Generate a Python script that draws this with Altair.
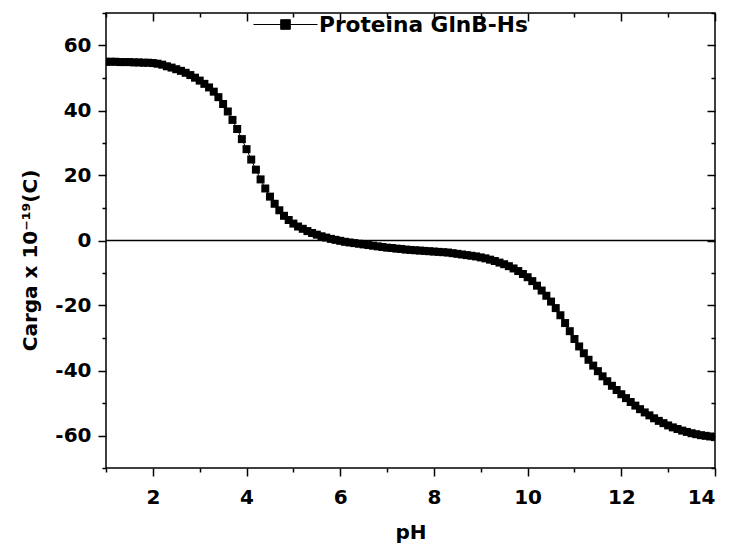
import altair as alt
import pandas as pd

# pH grid (x values)
ph = [1.0, 1.1, 1.2, 1.3, 1.4, 1.5, 1.6, 1.7, 1.8, 1.9,
      2.0, 2.1, 2.2, 2.3, 2.4, 2.5, 2.6, 2.7, 2.8, 2.9,
      3.0, 3.1, 3.2, 3.3, 3.4, 3.5, 3.6, 3.7, 3.8, 3.9,
      4.0, 4.1, 4.2, 4.3, 4.4, 4.5, 4.6, 4.7, 4.8, 4.9,
      5.0, 5.1, 5.2, 5.3, 5.4, 5.5, 5.6, 5.7, 5.8, 5.9,
      6.0, 6.1, 6.2, 6.3, 6.4, 6.5, 6.6, 6.7, 6.8, 6.9,
      7.0, 7.1, 7.2, 7.3, 7.4, 7.5, 7.6, 7.7, 7.8, 7.9,
      8.0, 8.1, 8.2, 8.3, 8.4, 8.5, 8.6, 8.7, 8.8, 8.9,
      9.0, 9.1, 9.2, 9.3, 9.4, 9.5, 9.6, 9.7, 9.8, 9.9,
      10.0, 10.1, 10.2, 10.3, 10.4, 10.5, 10.6, 10.7, 10.8, 10.9,
      11.0, 11.1, 11.2, 11.3, 11.4, 11.5, 11.6, 11.7, 11.8, 11.9,
      12.0, 12.1, 12.2, 12.3, 12.4, 12.5, 12.6, 12.7, 12.8, 12.9,
      13.0, 13.1, 13.2, 13.3, 13.4, 13.5, 13.6, 13.7, 13.8, 13.9,
      14.0]

# Charge x 10^-19 C
carga = [55.0, 55.0, 55.0, 54.9, 54.9, 54.9, 54.8, 54.8, 54.7, 54.7,
         54.6, 54.4, 54.1, 53.6, 53.2, 52.7, 52.2, 51.6, 50.9, 50.1,
         49.2, 48.2, 47.1, 45.8, 44.1, 42.0, 39.7, 37.1, 34.3, 31.2,
         28.1, 24.9, 21.8, 18.8, 16.0, 13.5, 11.3, 9.3, 7.6, 6.3,
         5.2, 4.3, 3.6, 2.9, 2.3, 1.8, 1.3, 0.9, 0.5, 0.2,
         -0.1, -0.4, -0.6, -0.8, -1.0, -1.2, -1.4, -1.6, -1.8, -2.0,
         -2.2, -2.3, -2.5, -2.6, -2.8, -2.9, -3.0, -3.1, -3.2, -3.3,
         -3.4, -3.5, -3.6, -3.7, -3.9, -4.1, -4.3, -4.5, -4.7, -4.9,
         -5.2, -5.5, -5.9, -6.3, -6.8, -7.3, -7.9, -8.6, -9.4, -10.3,
         -11.3, -12.5, -13.9, -15.4, -17.0, -18.8, -20.8, -23.0, -25.4, -27.9,
         -30.3, -32.6, -34.7, -36.7, -38.5, -40.2, -41.8, -43.3, -44.7, -46.0,
         -47.3, -48.5, -49.7, -50.8, -51.9, -52.9, -53.8, -54.7, -55.5, -56.2,
         -56.9, -57.5, -58.0, -58.5, -58.9, -59.3, -59.6, -59.9, -60.1, -60.3,
         -60.5]

serie = "Proteina GlnB-Hs"

x_major = [2, 4, 6, 8, 10, 12, 14]
x_minor = [1, 3, 5, 7, 9, 11, 13]
y_major = [-60, -40, -20, 0, 20, 40, 60]
y_minor = [-70, -50, -30, -10, 10, 30, 50, 70]

df = pd.DataFrame({"pH": ph, "carga": carga, "serie": [serie] * len(ph)})

FONT = "DejaVu Sans"
xs = alt.Scale(domain=[1, 14], nice=False, zero=False)
ys = alt.Scale(domain=[-70, 70], nice=False, zero=False)

base = alt.Chart(df)

points = base.mark_point(shape="square", filled=True, size=64, opacity=1, clip=True).encode(
    x=alt.X("pH:Q", scale=xs,
            axis=alt.Axis(orient="bottom", values=x_major, tickSize=8, labelPadding=11,
                          labelExpr="'' + datum.value",
                          title="pH", titleBaseline="alphabetic", titleY=70)),
    y=alt.Y("carga:Q", scale=ys,
            axis=alt.Axis(orient="left", values=y_major, tickSize=8, labelPadding=7,
                          labelExpr="'' + datum.value",
                          title="Carga x 10⁻¹⁹(C)", titleBaseline="alphabetic",
                          titleX=-70, titleY=247, titleAngle=270)),
    color=alt.Color("serie:N", scale=alt.Scale(range=["black"]),
                    legend=alt.Legend(orient="none", legendX=147, legendY=-21, title=None,
                                      symbolType="M-1,0H1M-0.15,-0.15H0.15V0.15H-0.15Z",
                                      symbolSize=4096, symbolFillColor="black",
                                      symbolStrokeColor="black", symbolStrokeWidth=1,
                                      labelFont=FONT, labelFontSize=21.7, labelFontWeight="bold",
                                      labelColor="black", labelOffset=1, labelLimit=0, padding=0)),
)

line = base.mark_line(color="black", strokeWidth=1, clip=True).encode(
    x=alt.X("pH:Q", scale=xs,
            axis=alt.Axis(orient="bottom", values=x_minor, tickSize=4, labels=False, title=None)),
    y=alt.Y("carga:Q", scale=ys,
            axis=alt.Axis(orient="left", values=y_minor, tickSize=4, labels=False, title=None)),
)

mirror_major = base.mark_point(opacity=0).encode(
    x=alt.X("pH:Q", scale=xs,
            axis=alt.Axis(orient="top", values=x_major, tickSize=8, offset=-8, labels=False, title=None)),
    y=alt.Y("carga:Q", scale=ys,
            axis=alt.Axis(orient="right", values=y_major, tickSize=8, offset=-8, labels=False, title=None)),
)

mirror_minor = base.mark_point(opacity=0).encode(
    x=alt.X("pH:Q", scale=xs,
            axis=alt.Axis(orient="top", values=x_minor, tickSize=4, offset=-4, labels=False, title=None)),
    y=alt.Y("carga:Q", scale=ys,
            axis=alt.Axis(orient="right", values=y_minor, tickSize=4, offset=-4, labels=False, title=None)),
)

zero = alt.Chart(pd.DataFrame({"z": [0]})).mark_rule(color="black", strokeWidth=1.5).encode(
    y=alt.Y("z:Q", scale=ys, axis=None)
)

chart = alt.layer(zero, line, points, mirror_major, mirror_minor).resolve_axis(
    x="independent", y="independent"
).properties(
    width=609, height=455,
    padding={"left": 106, "top": 13, "right": 15, "bottom": 84},
    autosize=alt.AutoSizeParams(type="none"),
    background="white",
).configure_view(
    stroke="black", strokeWidth=1.5
).configure_axis(
    domain=False, grid=False, tickColor="black", tickWidth=1.5,
    labelFont=FONT, labelFontSize=20, labelFontWeight="bold", labelColor="black",
    titleFont=FONT, titleFontSize=20, titleFontWeight="bold", titleColor="black",
)

chart.save("out.html", embed_options={"renderer": "svg", "actions": False})
